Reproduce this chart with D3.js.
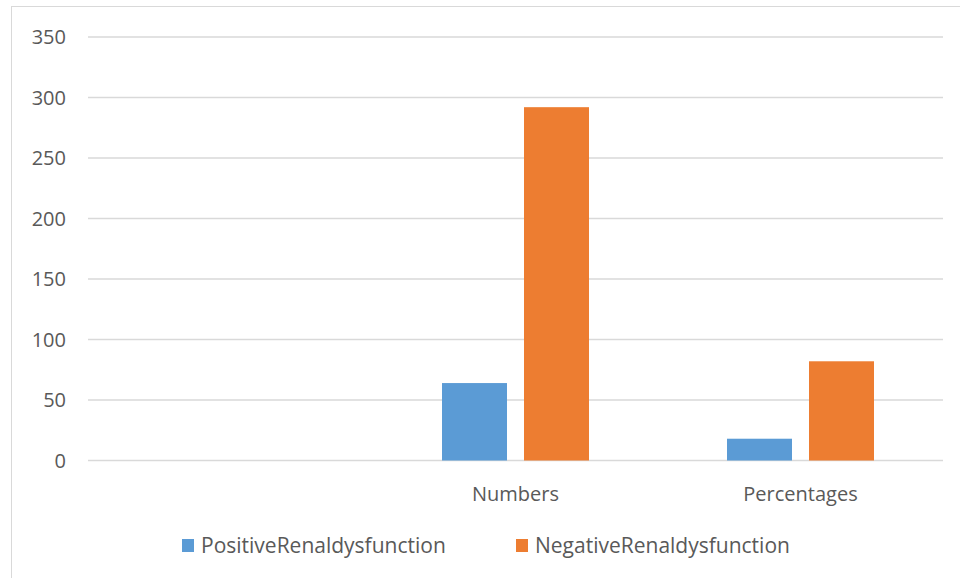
<!DOCTYPE html>
<html>
<head>
<meta charset="utf-8">
<script src="https://cdn.jsdelivr.net/npm/d3@7"></script>
<style>
  html, body { margin: 0; padding: 0; background: #fff; }
  svg { display: block; }
  text { font-family: "Open Sans", "Noto Sans", sans-serif; fill: #595959; }
</style>
</head>
<body>
<svg id="chart" width="960" height="578"></svg>
<script>
// Chart data
const categories = ["", "Numbers", "Percentages"];
const seriesNames = ["PositiveRenaldysfunction", "NegativeRenaldysfunction"];
const positiveValues = [null, 64, 18];
const negativeValues = [null, 292, 82];
const yTicks = [0, 50, 100, 150, 200, 250, 300, 350];
const colors = ["#5b9bd5", "#ed7d31"];

const svg = d3.select("#chart");
const W = 960, H = 578;
const plot = { left: 88, right: 943, top: 37, bottom: 460.5 };

// Outer chart frame
svg.append("rect")
  .attr("x", 11.5).attr("y", 6.5)
  .attr("width", W + 20).attr("height", H + 20)
  .attr("fill", "#fff").attr("stroke", "#d9d9d9").attr("stroke-width", 1);

const x = d3.scaleBand().domain(categories).range([plot.left, plot.right]).paddingInner(0).paddingOuter(0);
const y = d3.scaleLinear().domain([0, 350]).range([plot.bottom, plot.top]);

// Horizontal gridlines
svg.append("g").selectAll("line").data(yTicks).join("line")
  .attr("x1", plot.left).attr("x2", plot.right)
  .attr("y1", d => y(d)).attr("y2", d => y(d))
  .attr("stroke", "#d9d9d9").attr("stroke-width", 1.6);

// Y axis labels
const yAxis = d3.axisLeft(y).tickValues(yTicks).tickSize(0).tickPadding(0);
const yg = svg.append("g").attr("transform", "translate(66,0)").call(yAxis);
yg.select(".domain").remove();
yg.selectAll("text")
  .attr("font-family", "\"Open Sans\", sans-serif")
  .attr("font-size", 20).attr("fill", "#595959").attr("dy", "0.34em");

// Bars
const barW = 65, barGap = 17;
const rows = categories.map((c, i) => ({ cat: c, vals: [positiveValues[i], negativeValues[i]] }));
const groups = svg.append("g").selectAll("g").data(rows).join("g");
groups.selectAll("rect")
  .data(d => d.vals.map((v, s) => ({ cat: d.cat, v, s })).filter(e => e.v != null))
  .join("rect")
  .attr("x", e => x(e.cat) + x.bandwidth() / 2 + (e.s === 0 ? -(barW + barGap / 2) : barGap / 2))
  .attr("width", barW)
  .attr("y", e => y(e.v))
  .attr("height", e => y(0) - y(e.v))
  .attr("fill", e => colors[e.s]);

// Category labels
const xAxis = d3.axisBottom(x).tickSize(0).tickPadding(0);
const xg = svg.append("g").attr("transform", `translate(0,${plot.bottom})`).call(xAxis);
xg.select(".domain").remove();
xg.selectAll("text")
  .attr("font-family", "\"Open Sans\", sans-serif")
  .attr("font-size", 20).attr("fill", "#595959").attr("y", 40).attr("dy", 0);

// Legend
const legendItems = [
  { name: seriesNames[0], color: colors[0], x: 182 },
  { name: seriesNames[1], color: colors[1], x: 516 }
];
const lg = svg.append("g").selectAll("g").data(legendItems).join("g")
  .attr("transform", d => `translate(${d.x},0)`);
lg.append("rect").attr("x", 0).attr("y", 539).attr("width", 12).attr("height", 13)
  .attr("fill", d => d.color);
lg.append("text").attr("x", 19).attr("y", 553)
  .attr("font-size", 21).text(d => d.name);
</script>
</body>
</html>
